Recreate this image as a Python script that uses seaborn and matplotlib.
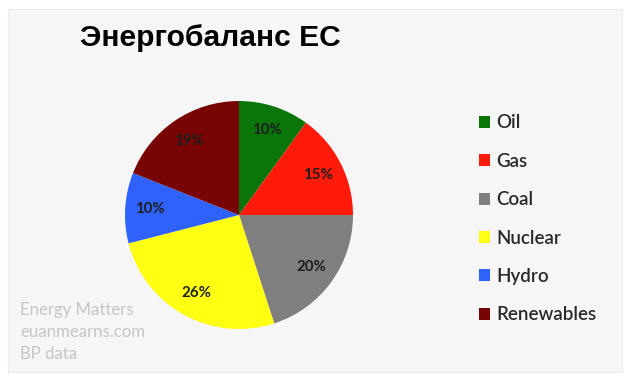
import matplotlib
matplotlib.use("Agg")
import matplotlib.pyplot as plt
from matplotlib.patches import Rectangle
import seaborn as sns

# Data
categories = ["Oil", "Gas", "Coal", "Nuclear", "Hydro", "Renewables"]
shares = [10, 15, 20, 26, 10, 19]
colors = ["#0a760a", "#ff1a0a", "#7f7f7f", "#ffff14", "#2f62fb", "#780404"]
title = "Энергобаланс ЕС"
credits = ["Energy Matters", "euanmearns.com", "BP data"]

sns.set_theme(style="white")
plt.rcParams["font.family"] = ["Lato", "DejaVu Sans"]
palette = sns.color_palette(colors)

W, H = 640, 387
fig = plt.figure(figsize=(W / 100, H / 100), dpi=100)
fig.patch.set_facecolor("white")

# light grey panel
fig.patches.append(Rectangle((8 / W, 1 - 372 / H), 614 / W, 363 / H,
                             transform=fig.transFigure, facecolor="#f6f6f6",
                             edgecolor="#ececec", linewidth=0.8, zorder=-10))

cx, cy, r = 239, 215, 114
ax = fig.add_axes([(cx - r) / W, 1 - (cy + r) / H, 2 * r / W, 2 * r / H])
ax.set_zorder(5)
wedges, texts, autotexts = ax.pie(
    shares, colors=palette, startangle=90, counterclock=False,
    autopct="%d%%", pctdistance=0.78, radius=1.0,
    wedgeprops=dict(linewidth=0),
    textprops=dict(fontsize=10.8, color="#1e1e1e", fontweight="bold"))
ax.set_xlim(-1, 1)
ax.set_ylim(-1, 1)
ax.set_aspect("equal")
ax.axis("off")
ax.patch.set_alpha(0)

fig.text(80 / W, 1 - 38 / H, title, fontsize=21.6, fontweight="bold",
         family=["Liberation Sans", "DejaVu Sans"], color="black",
         va="center", ha="left")

for i, line in enumerate(credits):
    fig.text(20 / W, 1 - (310 + 22 * i) / H, line, fontsize=12.1,
             color="#c6c6c6", va="center", ha="left")

leg = fig.legend(wedges, categories, loc="upper left",
                 bbox_to_anchor=(471 / W, 1 - 107 / H), frameon=False,
                 fontsize=13.5, handlelength=0.6, handleheight=0.6,
                 handletextpad=0.35, labelspacing=1.14, borderaxespad=0)
for t in leg.get_texts():
    t.set_color("#2a2a2a")
    t.set_fontweight("semibold")

fig.savefig("out.png", dpi=100, facecolor="white")
